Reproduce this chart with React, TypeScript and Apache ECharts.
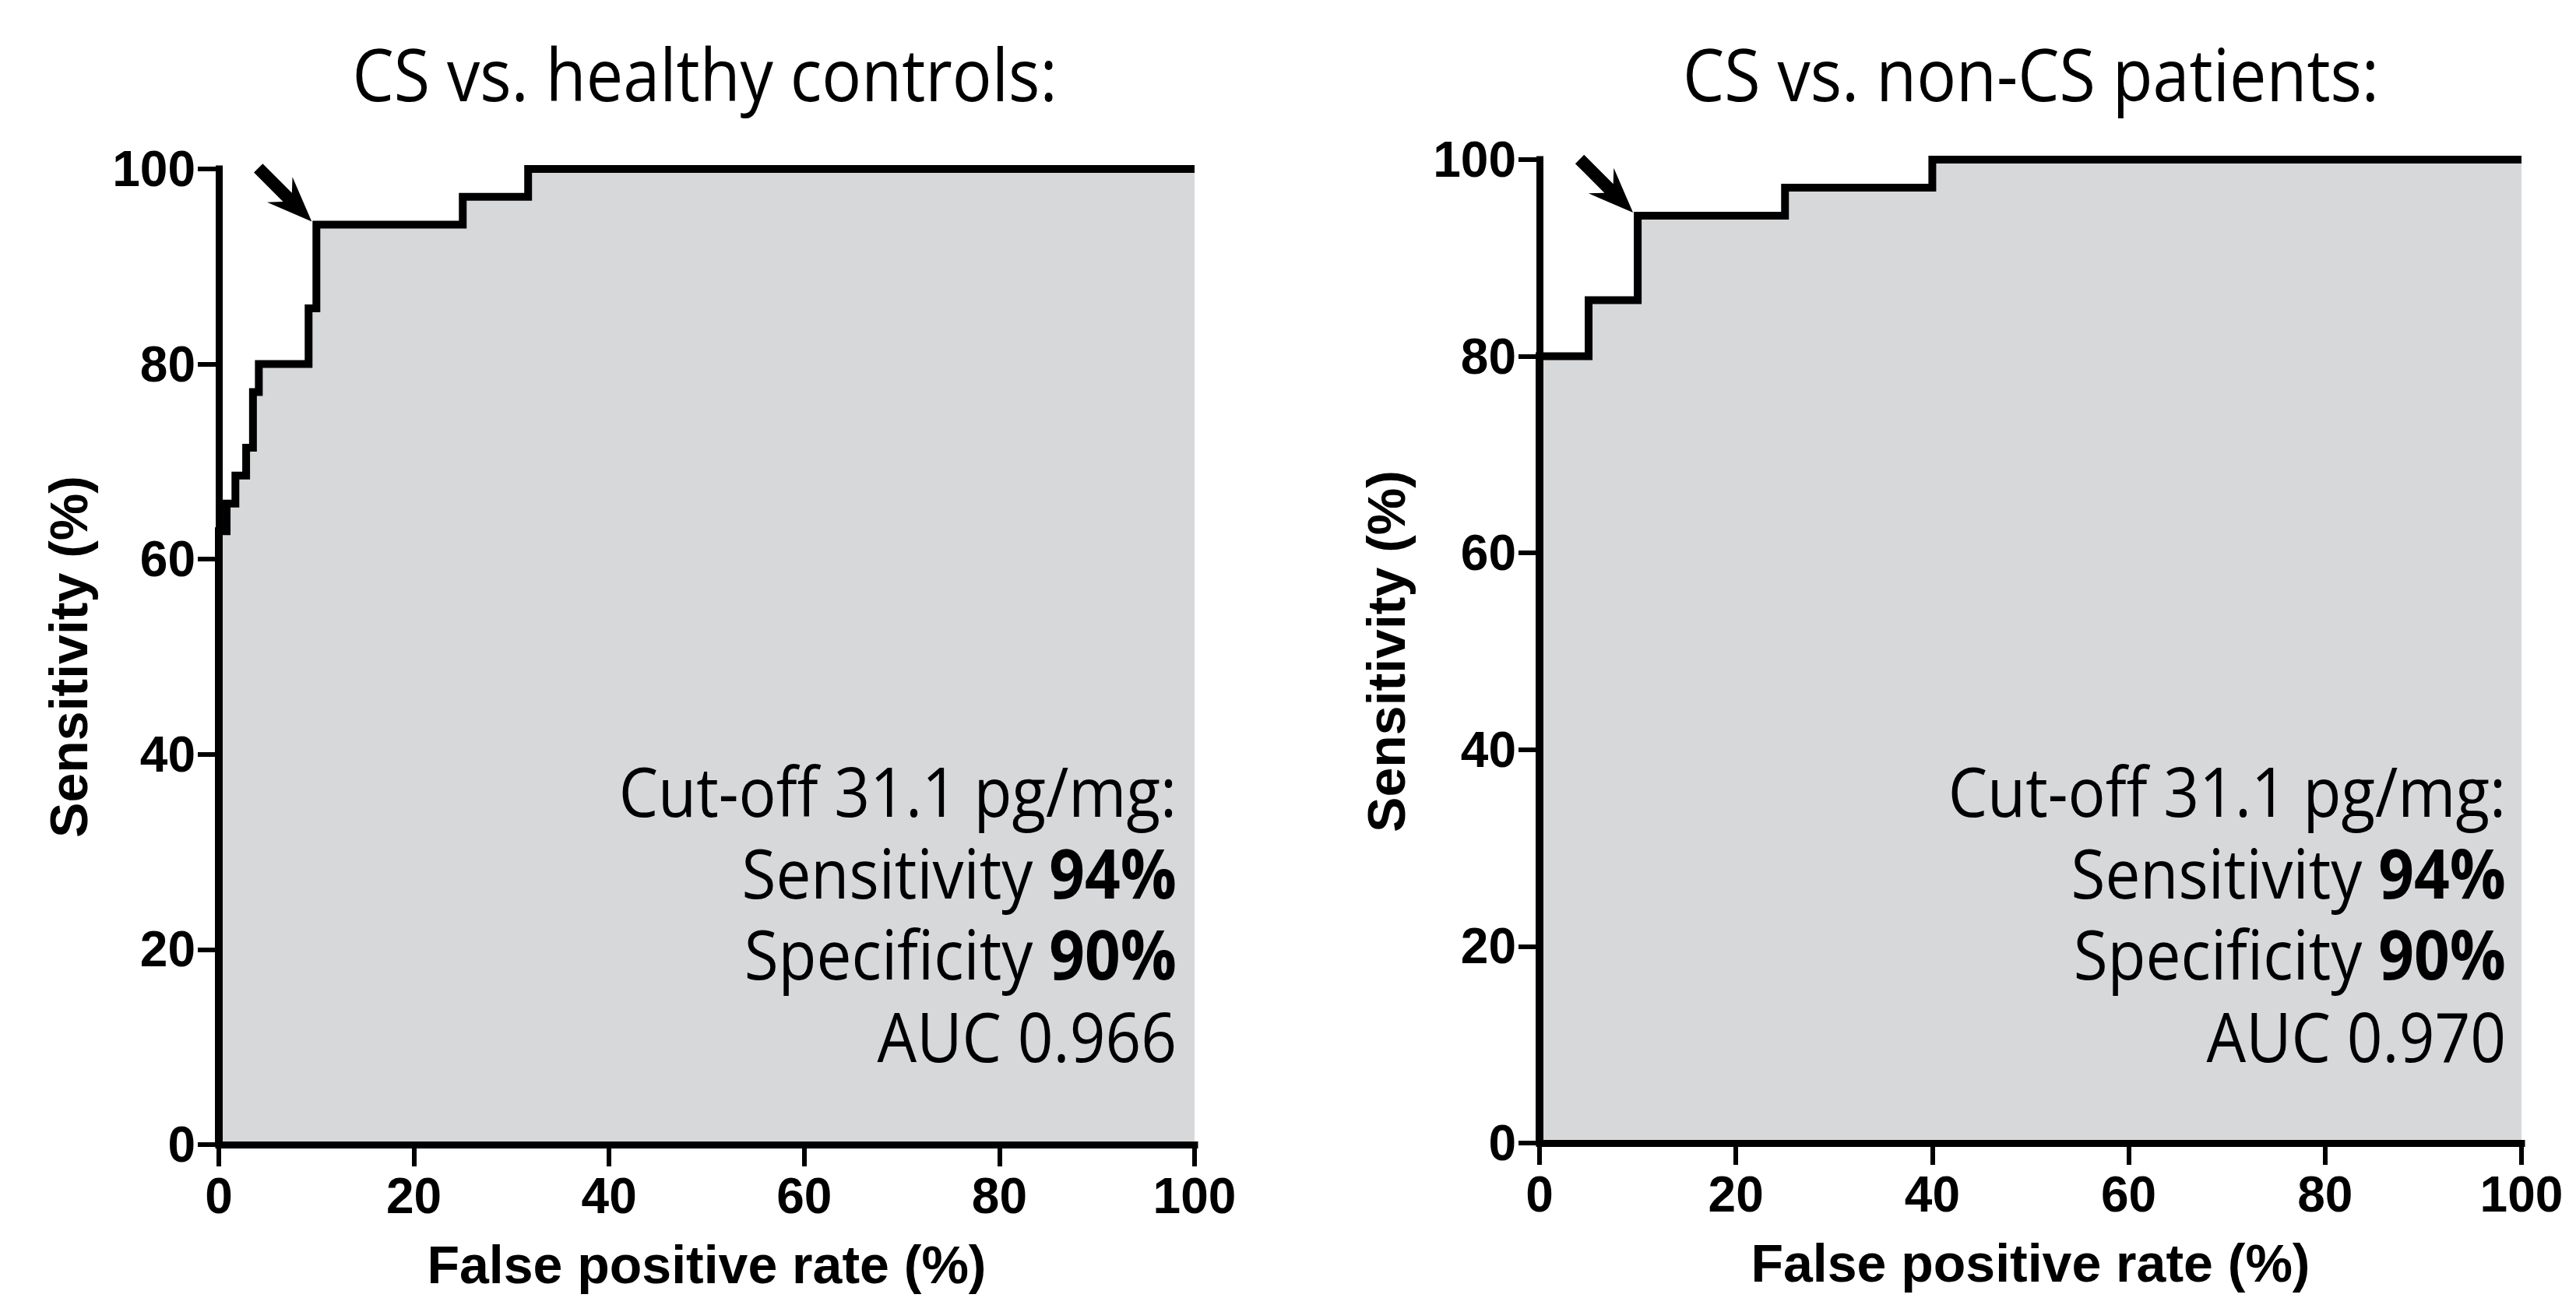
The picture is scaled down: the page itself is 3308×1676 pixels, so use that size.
import React, { useEffect, useRef } from "react";
import * as echarts from "echarts";

// ---- data ----
const xTicksMax = 100;
const yTicksMax = 100;
const tickInterval = 20;

const healthyFpr = [0, 0, 0.8, 0.8, 1.7, 1.7, 2.8, 2.8, 3.5, 3.5, 4.1, 4.1, 9.2, 9.2, 10, 10, 25, 25, 31.7, 31.7, 100];
const healthySens = [0, 62.86, 62.86, 65.71, 65.71, 68.57, 68.57, 71.43, 71.43, 77.14, 77.14, 80, 80, 85.71, 85.71, 94.29, 94.29, 97.14, 97.14, 100, 100];

const nonCsFpr = [0, 0, 5, 5, 10, 10, 25, 25, 40, 40, 100];
const nonCsSens = [0, 80, 80, 85.71, 85.71, 94.29, 94.29, 97.14, 97.14, 100, 100];

const panelTitles = ["CS vs. healthy controls:", "CS vs. non-CS patients:"];
const cutoffPoints = [
  [10, 94.29],
  [10, 94.29],
];
const cutoffLabel = "Cut-off 31.1 pg/mg:";
const sensitivityValues = ["94%", "94%"];
const specificityValues = ["90%", "90%"];
const aucValues = ["AUC 0.966", "AUC 0.970"];

const xName = "False positive rate (%)";
const yName = "Sensitivity (%)";

// ---- styling ----
const AXIS_FONT = "'Liberation Sans', Arial, sans-serif";
const TEXT_FONT = "'Open Sans', sans-serif";
const FILL = "#d7d8da";

const grids = [
  { left: 281, top: 217, width: 1253, height: 1253 },
  { left: 1977, top: 205, width: 1261, height: 1263 },
];
const yNameGaps = [159, 163];
const titleCenters = [905, 2608];
const noteRight = [1511, 3218];
const noteRows = [1015, 1120, 1224, 1330];

function makeX(i: number) {
  return {
    type: "value",
    gridIndex: i,
    min: 0,
    max: xTicksMax,
    interval: tickInterval,
    z: 10,
    name: xName,
    nameLocation: "middle",
    nameGap: 120,
    nameTextStyle: { fontFamily: AXIS_FONT, fontWeight: "bold", fontSize: 68, color: "#000" },
    axisLine: { show: true, onZero: false, lineStyle: { color: "#000", width: 9, cap: "square" } },
    axisTick: { show: true, length: 28, lineStyle: { color: "#000", width: 6 } },
    axisLabel: { margin: 34, fontFamily: AXIS_FONT, fontWeight: "bold", fontSize: 64, color: "#000" },
    splitLine: { show: false },
  };
}

function makeY(i: number) {
  return {
    type: "value",
    gridIndex: i,
    min: 0,
    max: yTicksMax,
    interval: tickInterval,
    z: 10,
    name: yName,
    nameLocation: "middle",
    nameGap: yNameGaps[i],
    nameTextStyle: { fontFamily: AXIS_FONT, fontWeight: "bold", fontSize: 68, color: "#000" },
    axisLine: { show: true, onZero: false, lineStyle: { color: "#000", width: 9, cap: "square" } },
    axisTick: { show: true, length: 27, lineStyle: { color: "#000", width: 6 } },
    axisLabel: { margin: 30, fontFamily: AXIS_FONT, fontWeight: "bold", fontSize: 64, color: "#000" },
    splitLine: { show: false },
  };
}

function makeSeries(i: number, fpr: number[], sens: number[]) {
  return {
    type: "line",
    xAxisIndex: i,
    yAxisIndex: i,
    data: fpr.map((x, k) => [x, sens[k]]),
    symbol: "none",
    showSymbol: false,
    clip: false,
    z: 3,
    lineStyle: { color: "#000", width: 10, join: "miter", cap: "butt" },
    areaStyle: { color: FILL, opacity: 1 },
  };
}

export default function App() {
  const ref = useRef<HTMLDivElement>(null);

  useEffect(() => {
    if (!ref.current) return;
    const chart = echarts.init(ref.current, null, { renderer: "svg" });
    chart.setOption({
      animation: false,
      backgroundColor: "#fff",
      grid: grids,
      xAxis: [makeX(0), makeX(1)],
      yAxis: [makeY(0), makeY(1)],
      series: [makeSeries(0, healthyFpr, healthySens), makeSeries(1, nonCsFpr, nonCsSens)],
    });

    const graphic: any[] = [];
    const s = Math.SQRT1_2;
    [0, 1].forEach((i) => {
      // titles
      graphic.push({
        type: "text",
        x: titleCenters[i],
        y: 93,
        scaleX: 0.9,
        style: {
          text: panelTitles[i],
          fontFamily: TEXT_FONT,
          fontSize: 94,
          fill: "#000",
          align: "center",
          verticalAlign: "middle",
        },
      });
      // annotation text
      const rich = {
        n: { fontFamily: TEXT_FONT, fontSize: 88, fill: "#000", color: "#000" },
        b: { fontFamily: TEXT_FONT, fontSize: 88, fontWeight: "bold", fill: "#000", color: "#000" },
      };
      const lines = [
        `{n|${cutoffLabel}}`,
        `{n|Sensitivity }{b|${sensitivityValues[i]}}`,
        `{n|Specificity }{b|${specificityValues[i]}}`,
        `{n|${aucValues[i]}}`,
      ];
      lines.forEach((t, k) => {
        graphic.push({
          type: "text",
          x: noteRight[i],
          y: noteRows[k],
          scaleX: 0.91,
          z: 20,
          style: { text: t, rich, align: "right", verticalAlign: "middle", fontFamily: TEXT_FONT, fontSize: 88, fill: "#000" },
        });
      });
      // arrow pointing at cut-off
      const p = chart.convertToPixel({ xAxisIndex: i, yAxisIndex: i }, cutoffPoints[i]) as number[];
      const tx = p[0] - 6;
      const ty = p[1] - 4;
      const pt = (a: number, b: number) => [tx - a * s + b * s, ty - a * s - b * s];
      graphic.push({
        type: "polygon",
        z: 30,
        shape: {
          points: [
            [tx, ty],
            pt(58, 23),
            pt(44, 8),
            pt(97, 8),
            pt(97, -8),
            pt(44, -8),
            pt(58, -23),
          ],
        },
        style: { fill: "#000" },
      });
    });
    chart.setOption({ graphic });

    return () => chart.dispose();
  }, []);

  return (
    <div
      ref={ref}
      style={{ position: "fixed", left: 0, top: 0, width: 3308, height: 1676, background: "#fff" }}
    />
  );
}
